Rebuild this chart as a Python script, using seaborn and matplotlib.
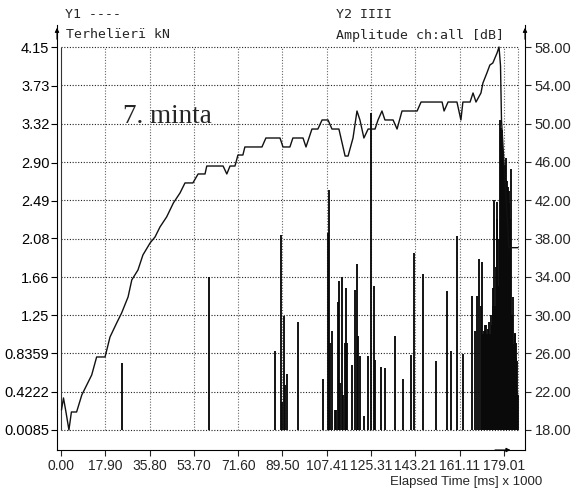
import matplotlib
matplotlib.use("Agg")
import matplotlib.pyplot as plt
import numpy as np
import pandas as pd
import seaborn as sns

# ---- data ----
load_t = [0.2, 1.0, 2.0, 3.2, 4.2, 6.3, 8.4, 10.4, 12.4, 14.4, 17.8, 19.8, 22.5, 24.5,
          27.1, 28.6, 31.1, 33.1, 36.0, 38.0, 40.0, 42.7, 45.4, 48.1, 50.1, 53.3, 55.4,
          58.2, 58.9, 65.5, 67.0, 68.3, 70.3, 71.5, 73.5, 74.3, 81.2, 82.8, 88.5, 89.7,
          92.5, 93.7, 97.8, 99.0, 101.4, 103.8, 105.5, 107.9, 109.5, 112.3, 114.8, 116.0,
          118.0, 119.6, 120.8, 122.4, 124.1, 126.9, 128.1, 129.7, 130.9, 134.2, 135.8,
          137.8, 143.9, 145.5, 154.0, 154.8, 156.4, 160.0, 161.6, 162.4, 165.3, 166.5,
          167.7, 169.7, 170.5, 172.1, 173.3, 174.5, 176.2, 177.0, 177.6, 178.0, 181.0, 184.7]
load_kn = [0.225, 0.355, 0.203, 0.009, 0.203, 0.203, 0.387, 0.495, 0.603, 0.798, 0.798,
           1.014, 1.166, 1.274, 1.447, 1.631, 1.739, 1.901, 2.031, 2.096, 2.204, 2.313,
           2.463, 2.572, 2.680, 2.680, 2.777, 2.777, 2.863, 2.863, 2.777, 2.863, 2.863,
           2.982, 2.982, 3.069, 3.069, 3.166, 3.166, 3.069, 3.069, 3.166, 3.166, 3.069,
           3.263, 3.263, 3.361, 3.361, 3.263, 3.263, 2.971, 2.971, 3.166, 3.458, 3.361,
           3.166, 3.263, 3.263, 3.361, 3.458, 3.361, 3.361, 3.263, 3.458, 3.458, 3.555,
           3.555, 3.458, 3.555, 3.555, 3.361, 3.555, 3.555, 3.653, 3.555, 3.653, 3.761,
           3.869, 3.955, 3.977, 4.085, 4.150, 3.950, 3.360, 1.980, 1.980]

hit_t = [24.8, 59.8, 86.5, 88.8, 89.2, 90.0, 90.5, 91.3, 95.6, 105.7, 108.0, 108.4, 108.7,
         109.6, 110.7, 111.1, 112.1, 112.5, 112.7, 113.7, 114.1, 114.8, 115.0, 115.7,
         117.5, 118.8, 119.5, 119.9, 120.8, 122.4, 124.2, 125.1, 126.5, 126.9, 129.2,
         130.9, 135.0, 138.3, 141.3, 142.6, 146.2, 151.5, 155.9, 157.5, 159.9, 162.3,
         166.2, 167.3, 168.0, 168.9, 169.8, 170.2, 170.6, 171.0, 171.3, 171.5, 171.8,
         172.0, 172.2, 172.4, 172.7, 173.1, 173.3, 173.6, 173.8, 174.0, 174.2, 174.4,
         174.7, 175.1, 175.3, 175.6, 175.8, 176.0, 176.2, 176.3, 176.6, 176.9,
         177.1, 177.4, 177.6, 177.8, 178.0, 178.2, 178.4, 178.6, 178.8, 179.0, 179.3,
         179.6, 179.8, 179.9, 180.1, 180.4, 180.7, 180.9, 181.0, 181.2, 181.4, 181.7,
         181.9, 182.2, 182.5, 182.8, 183.1, 183.3, 183.4, 183.7, 184.0, 184.2, 184.5]
hit_db = [25.0, 34.0, 26.2, 38.4, 20.9, 29.9, 22.7, 23.9, 29.3, 23.3, 38.6, 43.1, 27.1,
          28.3, 20.1, 20.1, 31.4, 33.6, 22.9, 34.0, 21.7, 27.1, 32.8, 27.1,
          24.8, 32.6, 35.3, 27.8, 25.7, 19.5, 25.7, 51.1, 33.0, 25.3, 24.6,
          24.5, 27.8, 23.3, 25.8, 36.5, 34.3, 25.2, 32.5, 26.2, 38.3, 25.9,
          32.0, 28.3, 32.0, 35.9, 30.9, 35.5, 28.0, 28.3, 27.5, 29.0, 29.0,
          27.8, 28.0, 28.5, 26.8, 29.3, 28.0, 26.8, 30.0, 29.0, 27.5, 31.0,
          32.8, 42.0, 31.0, 30.0, 35.0, 41.8, 34.0, 40.0, 33.0, 38.0,
          25.7, 50.4, 48.0, 49.5, 49.0, 49.3, 48.5, 46.9, 46.0, 45.0, 45.7,
          44.5, 46.4, 44.1, 44.0, 42.4, 43.4, 43.0, 38.2, 41.7, 40.0, 45.3,
          28.4, 30.0, 25.2, 31.9, 27.0, 28.1, 28.0, 25.5, 27.1, 25.2, 21.7]

x_ticks = [0.00, 17.90, 35.80, 53.70, 71.60, 89.50, 107.41, 125.31, 143.21, 161.11, 179.01]
y1_ticks = [0.0085, 0.4222, 0.8359, 1.25, 1.66, 2.08, 2.49, 2.90, 3.32, 3.73, 4.15]
y1_labels = ["0.0085", "0.4222", "0.8359", "1.25", "1.66", "2.08", "2.49", "2.90",
             "3.32", "3.73", "4.15"]
y2_ticks = [18, 22, 26, 30, 34, 38, 42, 46, 50, 54, 58]
x_end = 184.7

load_df = pd.DataFrame({"t": load_t, "kn": load_kn})

# ---- style ----
sns.set_style("white")
plt.rcParams["font.family"] = ["DejaVu Sans Mono", "DejaVu Sans"]
plt.rcParams["font.size"] = 10
tick_font = "Liberation Sans"

fig = plt.figure(figsize=(5.78, 4.99), dpi=100)
ax = fig.add_axes([57 / 578, 1 - 450 / 499, (525 - 57) / 578, (450 - 25) / 499])
ax2 = ax.twinx()

ax.set_xlim(-1.62, 187.5)
ax.set_ylim(-0.208, 4.388)
ax2.set_ylim(15.91, 60.30)

# grid (dotted, limited to data area)
dot = (0, (1, 1.5))
ax2.hlines(y2_ticks, 0, x_end, colors="#222222", linestyles=dot, linewidth=0.8, zorder=0)
ax2.vlines(x_ticks[1:] + [x_end], 18, 58, colors="#666666", linestyles=dot, linewidth=0.8, zorder=0)
ax2.vlines([0], 18, 58, colors="#333333", linewidth=0.8, zorder=0)

# AE hit bars
ax2.vlines(hit_t, 18, hit_db, colors="#0a0a0a", linewidth=1.35, zorder=2)

# load curve
ax.set_zorder(ax2.get_zorder() + 1)
ax.patch.set_visible(False)
sns.lineplot(data=load_df, x="t", y="kn", ax=ax, sort=False, estimator=None,
             color="#111111", linewidth=1.0)
ax.set_xlabel("")
ax.set_ylabel("")

# ticks
ax.set_xticks(x_ticks)
ax.set_xticklabels([f"{v:.2f}" for v in x_ticks], family=tick_font, fontsize=10)
ax.set_yticks(y1_ticks)
ax.set_yticklabels(y1_labels, family=tick_font, fontsize=10.5)
ax2.set_yticks(y2_ticks)
ax2.set_yticklabels([f"{v:.2f}" for v in y2_ticks], family=tick_font, fontsize=10.5)

ax.tick_params(axis="y", direction="out", length=4, width=0.8, pad=1.5,
               colors="black", left=True)
ax.tick_params(axis="x", direction="out", length=4, width=0.8, pad=2.5, bottom=True)
ax2.tick_params(axis="y", direction="out", length=4, width=0.8, pad=3, right=True)

for a in (ax, ax2):
    a.spines["top"].set_visible(False)
    for s in a.spines.values():
        s.set_color("black")
        s.set_linewidth(0.8)
ax.spines["right"].set_visible(False)
ax2.spines["left"].set_visible(False)
ax2.spines["bottom"].set_visible(False)

# axis arrows
arr = dict(arrowstyle="-|>", lw=0.8, color="black", mutation_scale=6)
ax.annotate("", xy=(0, 1.0), xytext=(0, 0.96), xycoords="axes fraction", arrowprops=arr)
ax.annotate("", xy=(1, 1.0), xytext=(1, 0.96), xycoords="axes fraction", arrowprops=arr)
ax.annotate("", xy=(0.975, 0), xytext=(0.93, 0), xycoords="axes fraction", arrowprops=arr)

# header texts
fig.text(65 / 578, 1 - 15 / 499, "Y1 ----", ha="left", va="center", fontsize=9.5)
fig.text(66 / 578, 1 - 35 / 499, "Terhelïerï kN", ha="left", va="center", fontsize=9.5)
fig.text(336 / 578, 1 - 15 / 499, "Y2 IIII", ha="left", va="center", fontsize=9.5)
fig.text(336 / 578, 1 - 35 / 499, "Amplitude ch:all [dB]", ha="left", va="center", fontsize=9.5)
fig.text(542 / 578, 1 - 482 / 499, "Elapsed Time [ms] x 1000", ha="right", va="center",
         fontsize=9.5, family=tick_font)
fig.text(123 / 578, 1 - 123 / 499, "7. minta", ha="left", va="baseline",
         fontsize=19.5, family="Liberation Serif")

fig.savefig("out.png", dpi=100)
